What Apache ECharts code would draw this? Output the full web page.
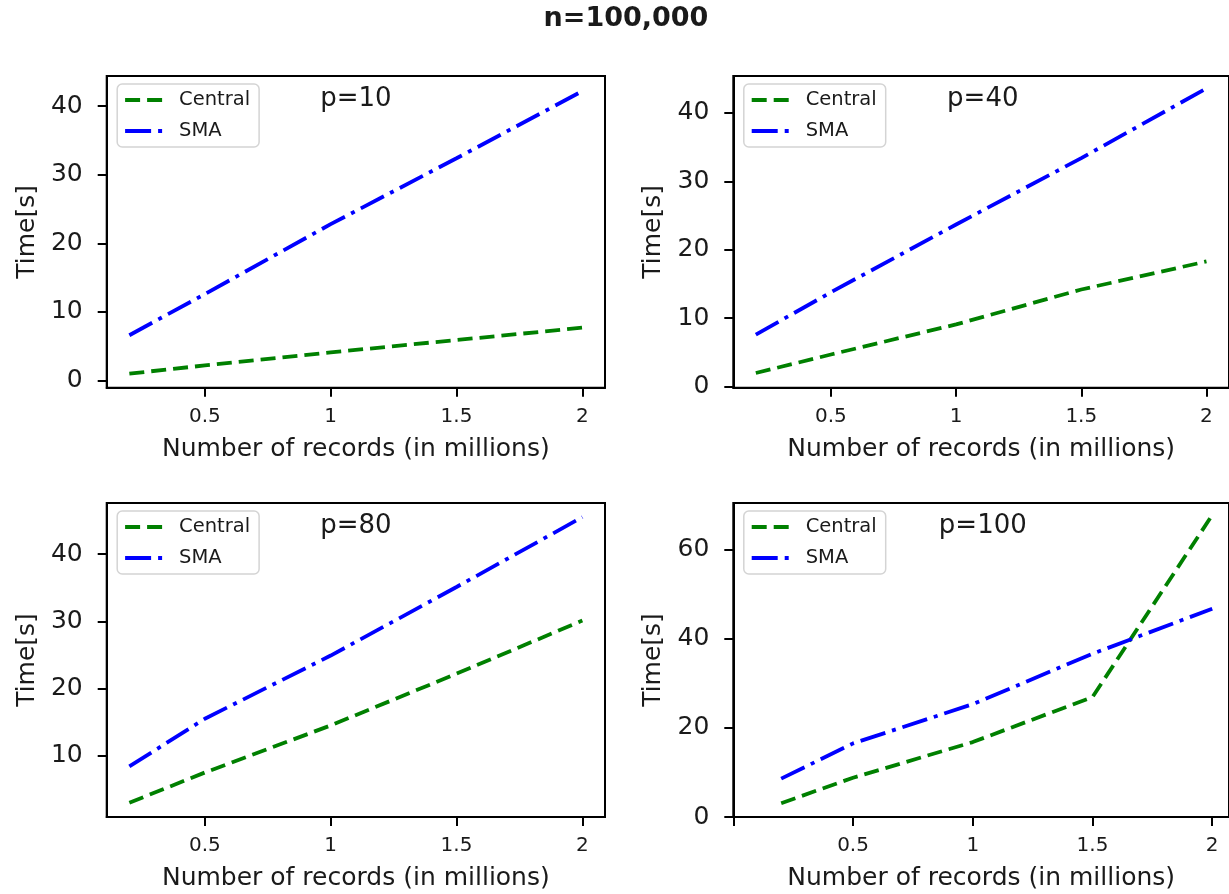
<!DOCTYPE html>
<html>
<head>
<meta charset="utf-8">
<title>n=100,000</title>
<script src="https://cdn.jsdelivr.net/npm/echarts@6/dist/echarts.min.js"></script>
<style>
  html, body { margin: 0; padding: 0; background: #fff; }
  #chart { width: 1229px; height: 894px; }
</style>
</head>
<body>
<div id="chart"></div>
<script>
// 记录数（百万）
const recordsM = [0.2, 0.5, 1, 1.5, 2]

// 各子图的耗时（秒）
const p10Central = [1.0, 2.2, 4.1, 5.9, 7.7]
const p10SMA = [6.6, 12.6, 22.8, 32.4, 42.2]
const p40Central = [2.0, 4.7, 9.1, 14.2, 18.3]
const p40SMA = [7.6, 13.8, 23.7, 33.4, 43.6]
const p80Central = [3.0, 7.5, 14.5, 22.2, 30.1]
const p80SMA = [8.4, 15.5, 24.9, 35.1, 45.5]
const p100Central = [3.1, 8.8, 16.8, 26.9, 67.7]
const p100SMA = [8.6, 16.5, 25.3, 36.6, 46.7]

const seriesNames = ['Central', 'SMA']
const panelTitles = ['p=10', 'p=40', 'p=80', 'p=100']
const xTickLabels = [0.5, 1, 1.5, 2]
const xTicksP100 = [0, 0.5, 1, 1.5, 2]
const yTicksP10 = [0, 10, 20, 30, 40]
const yTicksP40 = [0, 10, 20, 30, 40]
const yTicksP80 = [10, 20, 30, 40]
const yTicksP100 = [0, 20, 40, 60]

const FONT = 'DejaVu Sans'
const TEXT = '#1a1a1a'
const GREEN = '#008000'
const BLUE = '#0000ff'
const LINE_W = 3.8

// 子图位置与坐标范围
const panels = [
  { central: p10Central, sma: p10SMA, title: panelTitles[0], xTicks: xTickLabels, yTicks: yTicksP10,
    left: 106.7, top: 76, width: 498.3, height: 311.7, xMin: 0.11, xMax: 2.09, yMin: -1.05, yMax: 44.4 },
  { central: p40Central, sma: p40SMA, title: panelTitles[1], xTicks: xTickLabels, yTicks: yTicksP40,
    left: 733.3, top: 76, width: 499, height: 311.7, xMin: 0.11, xMax: 2.09, yMin: -0.15, yMax: 45.4 },
  { central: p80Central, sma: p80SMA, title: panelTitles[2], xTicks: xTickLabels, yTicks: yTicksP80,
    left: 106.7, top: 503, width: 498.3, height: 314, xMin: 0.11, xMax: 2.09, yMin: 0.88, yMax: 47.6 },
  { central: p100Central, sma: p100SMA, title: panelTitles[3], xTicks: xTicksP100, yTicks: yTicksP100,
    left: 733.3, top: 503, width: 499, height: 314, xMin: 0, xMax: 2.07, yMin: 0, yMax: 70.4 }
]

const toPoints = (values) => values.map((v, i) => [recordsM[i], v])

const grid = []
const xAxis = []
const yAxis = []
const legend = []
const series = []
const title = [{
  text: 'n=100,000',
  left: 626,
  top: 5,
  padding: 0,
  textAlign: 'center',
  textStyle: { fontFamily: FONT, fontSize: 27, fontWeight: 'bold', color: TEXT }
}]

panels.forEach((p, i) => {
  grid.push({
    left: p.left, top: p.top, width: p.width, height: p.height,
    show: true, borderColor: '#000', borderWidth: 2, backgroundColor: 'transparent'
  })

  xAxis.push({
    gridIndex: i,
    type: 'value',
    min: p.xMin,
    max: p.xMax,
    name: 'Number of records (in millions)',
    nameLocation: 'middle',
    nameGap: 49,
    nameTextStyle: { fontFamily: FONT, fontSize: 25, color: TEXT },
    splitLine: { show: false },
    axisLine: { show: true, onZero: false, lineStyle: { color: '#000', width: 2 } },
    axisTick: { show: true, length: 9, customValues: p.xTicks, lineStyle: { color: '#000', width: 2 } },
    axisLabel: { customValues: xTickLabels, margin: 19, fontFamily: FONT, fontSize: 20, color: TEXT }
  })

  yAxis.push({
    gridIndex: i,
    type: 'value',
    min: p.yMin,
    max: p.yMax,
    name: 'Time[s]',
    nameLocation: 'middle',
    nameGap: 67,
    nameTextStyle: { fontFamily: FONT, fontSize: 25, color: TEXT },
    splitLine: { show: false },
    axisLine: { show: true, onZero: false, lineStyle: { color: '#000', width: 2 } },
    axisTick: { show: true, length: 9, customValues: p.yTicks, lineStyle: { color: '#000', width: 2 } },
    axisLabel: { customValues: p.yTicks, margin: 24, fontFamily: FONT, fontSize: 25, color: TEXT }
  })

  title.push({
    text: p.title,
    left: p.left + p.width / 2,
    top: p.top + 10,
    padding: 0,
    textAlign: 'center',
    textStyle: { fontFamily: FONT, fontSize: 26, fontWeight: 'normal', color: TEXT }
  })

  legend.push({
    data: seriesNames,
    orient: 'vertical',
    left: p.left + 10.5,
    top: p.top + 8,
    padding: [6, 9, 6, 6],
    itemGap: 11,
    itemWidth: 39,
    itemHeight: 14,
    selectedMode: false,
    borderColor: '#d4d4d4',
    borderWidth: 1.5,
    borderRadius: 5,
    backgroundColor: 'rgba(255,255,255,0.8)',
    // 只画线型，不画圆点
    itemStyle: { opacity: 0 },
    lineStyle: { width: LINE_W },
    textStyle: { fontFamily: FONT, fontSize: 19.5, color: TEXT, padding: [0, 0, 0, 10] }
  })

  series.push({
    name: seriesNames[0],
    type: 'line',
    xAxisIndex: i,
    yAxisIndex: i,
    data: toPoints(p.central),
    symbol: 'none',
    silent: true,
    itemStyle: { color: GREEN },
    lineStyle: { color: GREEN, width: LINE_W, type: [15, 7] }
  })
  series.push({
    name: seriesNames[1],
    type: 'line',
    xAxisIndex: i,
    yAxisIndex: i,
    data: toPoints(p.sma),
    symbol: 'none',
    silent: true,
    itemStyle: { color: BLUE },
    lineStyle: { color: BLUE, width: LINE_W, type: [26, 7, 4, 7] }
  })
})

const chart = echarts.init(document.getElementById('chart'))
chart.setOption({
  animation: false,
  backgroundColor: '#fff',
  title,
  legend,
  grid,
  xAxis,
  yAxis,
  series
})
</script>
</body>
</html>
